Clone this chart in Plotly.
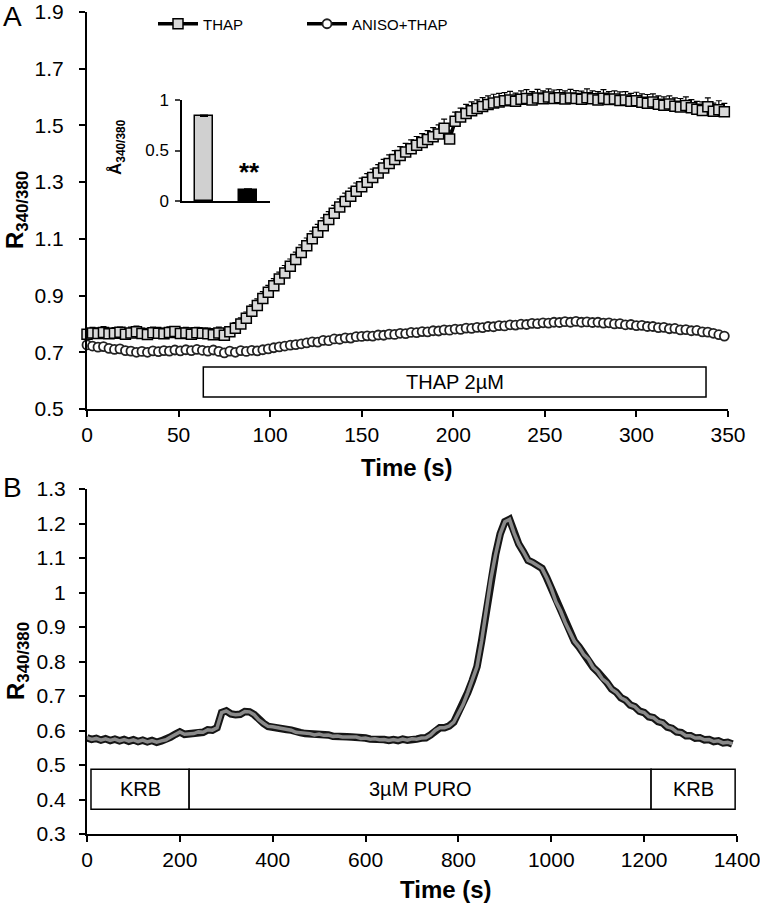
import plotly.graph_objects as go

W, H = 760, 910
def fx(p):
    return p / W
def fy(p):
    return 1 - p / H

FONT = "Liberation Sans, Arial, sans-serif"

# ---------------- Panel A data (sampled every 3 s) ----------------
STEP_A = 3
THAP = [
    0.764, 0.768, 0.766, 0.770, 0.765, 0.767, 0.771, 0.764, 0.768, 0.772,
    0.766, 0.763, 0.769, 0.767, 0.765, 0.770, 0.773, 0.766, 0.768, 0.764,
    0.769, 0.767, 0.765, 0.762, 0.768, 0.760, 0.772,
    0.785, 0.800, 0.820, 0.845, 0.865, 0.890, 0.912, 0.935, 0.958, 0.980,
    1.003, 1.027, 1.052, 1.076, 1.100, 1.123, 1.146, 1.168, 1.190, 1.212,
    1.232, 1.250, 1.268, 1.284, 1.300, 1.316, 1.332, 1.350, 1.366, 1.380,
    1.394, 1.406, 1.418, 1.430, 1.440, 1.450, 1.460, 1.470, 1.490, 1.452,
    1.515, 1.530, 1.542, 1.552, 1.560, 1.567, 1.574, 1.579, 1.583, 1.587,
    1.590, 1.585, 1.592, 1.595, 1.590, 1.597, 1.594, 1.600, 1.595, 1.598,
    1.593, 1.597, 1.595, 1.592, 1.598, 1.594, 1.590, 1.596, 1.591, 1.593,
    1.588, 1.590, 1.585, 1.587, 1.582, 1.578, 1.583, 1.575, 1.571, 1.576,
    1.568, 1.565, 1.570, 1.562, 1.557, 1.553, 1.566, 1.550, 1.555, 1.548,
]
THAP_SEM = [
    0.019, 0.020, 0.018, 0.021, 0.019, 0.020, 0.018, 0.019, 0.021, 0.020,
    0.019, 0.018, 0.020, 0.021, 0.019, 0.020, 0.018, 0.019, 0.020, 0.021,
    0.019, 0.018, 0.020, 0.019, 0.021, 0.020, 0.019,
    0.020, 0.021, 0.022, 0.022, 0.023, 0.024, 0.024, 0.025, 0.025, 0.026,
    0.026, 0.026, 0.027, 0.027, 0.027, 0.028, 0.028, 0.028, 0.028, 0.029,
    0.029, 0.029, 0.029, 0.030, 0.030, 0.030, 0.030, 0.030, 0.030, 0.031,
    0.031, 0.031, 0.031, 0.031, 0.031, 0.032, 0.032, 0.032, 0.032, 0.031,
    0.032, 0.031, 0.032, 0.031, 0.030, 0.031, 0.030, 0.031, 0.030, 0.029,
    0.030, 0.029, 0.030, 0.031, 0.029, 0.030, 0.028, 0.029, 0.030, 0.028,
    0.029, 0.030, 0.028, 0.029, 0.031, 0.028, 0.029, 0.030, 0.028, 0.029,
    0.030, 0.029, 0.028, 0.030, 0.029, 0.031, 0.028, 0.029, 0.030, 0.028,
    0.029, 0.030, 0.031, 0.029, 0.028, 0.030, 0.031, 0.029, 0.032, 0.030,
]
ANISO_THAP = [
    0.726, 0.722, 0.718, 0.720, 0.714, 0.710, 0.712, 0.706, 0.704, 0.700,
    0.703, 0.700, 0.705, 0.702, 0.706, 0.704, 0.708, 0.705, 0.709, 0.706,
    0.710, 0.707, 0.704, 0.708, 0.703, 0.698, 0.704, 0.700, 0.706, 0.703,
    0.707, 0.705, 0.709, 0.712, 0.716, 0.719, 0.722, 0.725, 0.727, 0.730,
    0.733, 0.737, 0.736, 0.742, 0.741, 0.747, 0.746, 0.751, 0.750, 0.755,
    0.756, 0.758, 0.757, 0.761, 0.760, 0.764, 0.763, 0.767, 0.766, 0.770,
    0.769, 0.773, 0.772, 0.776, 0.775, 0.779, 0.778, 0.782, 0.781, 0.785,
    0.784, 0.788, 0.787, 0.791, 0.790, 0.794, 0.793, 0.797, 0.796, 0.799,
    0.798, 0.802, 0.801, 0.804, 0.803, 0.806, 0.805, 0.808, 0.806, 0.809,
    0.806, 0.807, 0.805, 0.806, 0.803, 0.804, 0.800, 0.801, 0.797, 0.798,
    0.794, 0.795, 0.791, 0.791, 0.787, 0.788, 0.783, 0.784, 0.779, 0.780,
    0.776, 0.777, 0.772, 0.771, 0.767, 0.762, 0.757,
]
TIME_A = [i * STEP_A for i in range(len(THAP))]

# inset: amplitude of response
INSET_GROUPS = ["THAP", "ANISO+THAP"]
INSET_VALUES = [0.84, 0.11]
INSET_SEM = [0.01, 0.01]

THAP_PERIOD = (63.5, 338.0, "THAP 2µM")

# ---------------- Panel B data (sampled every 10 s) ----------------
STEP_B = 10
PURO = [
    0.579, 0.574, 0.577, 0.572, 0.576, 0.571, 0.575, 0.570, 0.574, 0.569,
    0.573, 0.568, 0.572, 0.567, 0.571, 0.566, 0.570, 0.573, 0.581, 0.589,
    0.596, 0.589, 0.590, 0.591, 0.596, 0.595, 0.602, 0.601, 0.608, 0.652,
    0.657, 0.648, 0.646, 0.647, 0.655, 0.654, 0.646, 0.631, 0.621, 0.612,
    0.611, 0.608, 0.607, 0.603, 0.601, 0.595, 0.594, 0.591, 0.591, 0.587,
    0.590, 0.586, 0.587, 0.583, 0.584, 0.581, 0.582, 0.581, 0.581, 0.577,
    0.578, 0.575, 0.576, 0.573, 0.574, 0.571, 0.574, 0.571, 0.575, 0.572,
    0.576, 0.575, 0.578, 0.579, 0.587, 0.600, 0.608, 0.608, 0.613, 0.624,
    0.650, 0.675, 0.710, 0.745, 0.785, 0.860, 0.950, 1.040, 1.110, 1.170,
    1.205, 1.212, 1.172, 1.140, 1.118, 1.093, 1.087, 1.078, 1.070, 1.043,
    1.012, 0.973, 0.947, 0.913, 0.887, 0.858, 0.842, 0.820, 0.807, 0.783,
    0.770, 0.750, 0.739, 0.720, 0.711, 0.695, 0.688, 0.674, 0.669, 0.656,
    0.652, 0.640, 0.637, 0.626, 0.622, 0.610, 0.606, 0.596, 0.594, 0.585,
    0.585, 0.578, 0.579, 0.573, 0.574, 0.568, 0.570, 0.564, 0.566, 0.561,
]
TIME_B = [i * STEP_B for i in range(len(PURO))]

PERIODS_B = [(8.6, 220.0, "KRB"), (220.0, 1215.0, "3µM PURO"), (1215.0, 1396.0, "KRB")]

BOX_A_Y = (0.542, 0.648)
BOX_B_Y = (0.372, 0.488)

fig = go.Figure()

fig.add_trace(go.Scatter(
    x=TIME_A, y=THAP, mode="lines+markers", name="THAP",
    line=dict(color="black", width=3.5),
    marker=dict(symbol="square", size=10, color="#d9d9d9", line=dict(color="black", width=1.5)),
    error_y=dict(type="data", array=THAP_SEM, symmetric=False, color="black", thickness=1.2, width=3),
    cliponaxis=False, xaxis="x", yaxis="y"))
fig.add_trace(go.Scatter(
    x=TIME_A, y=ANISO_THAP, mode="lines+markers", name="ANISO+THAP",
    line=dict(color="black", width=3.5),
    marker=dict(symbol="circle", size=9, color="white", line=dict(color="#222222", width=1.8)),
    cliponaxis=False, xaxis="x", yaxis="y"))

fig.add_trace(go.Bar(
    x=INSET_GROUPS, y=INSET_VALUES, width=0.42, showlegend=False,
    marker=dict(color=["#d0d0d0", "black"], line=dict(color="black", width=1.5)),
    error_y=dict(type="data", array=INSET_SEM, symmetric=False, color="black", thickness=1.5, width=4),
    xaxis="x3", yaxis="y3"))

fig.add_trace(go.Scatter(
    x=TIME_B, y=PURO, mode="lines", showlegend=False,
    line=dict(color="#151515", width=7.5), xaxis="x2", yaxis="y2"))
fig.add_trace(go.Scatter(
    x=TIME_B, y=PURO, mode="lines", showlegend=False,
    line=dict(color="#8a8a8a", width=3.5), xaxis="x2", yaxis="y2"))

shapes = []
annotations = []

def add_box(xref, yref, x0, x1, yb, label):
    shapes.append(dict(type="rect", xref=xref, yref=yref, x0=x0, x1=x1, y0=yb[0], y1=yb[1],
                       line=dict(color="black", width=1.5), fillcolor="white", layer="below"))
    annotations.append(dict(xref=xref, yref=yref, x=(x0 + x1) / 2, y=(yb[0] + yb[1]) / 2,
                            text=label, showarrow=False, font=dict(size=20, family=FONT, color="black")))

add_box("x", "y", THAP_PERIOD[0], THAP_PERIOD[1], BOX_A_Y, THAP_PERIOD[2])
for (a, b, lab) in PERIODS_B:
    add_box("x2", "y2", a, b, BOX_B_Y, lab)

def ann(x, y, text, size, bold=False, angle=0, xanchor="center", yanchor="middle"):
    annotations.append(dict(xref="paper", yref="paper", x=fx(x), y=fy(y), text=("<b>%s</b>" % text) if bold else text,
                            showarrow=False, textangle=angle, xanchor=xanchor, yanchor=yanchor,
                            font=dict(size=size, family=FONT, color="black")))

ann(407, 468, "Time (s)", 24, bold=True)
ann(446, 889, "Time (s)", 24, bold=True)
ann(16, 210, "R<sub>340/380</sub>", 24, bold=True, angle=-90)
ann(17, 661, "R<sub>340/380</sub>", 24, bold=True, angle=-90)
ann(1, 16, "A", 28, xanchor="left")
ann(1, 487, "B", 28, xanchor="left")
ann(117, 147, "Å<sub>340/380</sub>", 17, bold=True, angle=-90)
ann(249, 172, "**", 26, bold=True)

axis_common = dict(showline=True, linecolor="black", linewidth=2, ticks="outside", ticklen=6, tickwidth=2,
                   tickcolor="black", showgrid=False, zeroline=False, automargin=False,
                   ticklabeloverflow="allow",
                   tickfont=dict(size=21, family=FONT, color="black"))

fig.update_layout(
    width=W, height=H, margin=dict(l=0, r=0, t=0, b=0, autoexpand=False),
    paper_bgcolor="white", plot_bgcolor="rgba(0,0,0,0)",
    font=dict(family=FONT, color="black"),
    xaxis=dict(domain=[fx(87), fx(728)], range=[0, 350], tick0=0, dtick=50, anchor="y", **axis_common),
    yaxis=dict(domain=[fy(409), fy(12)], range=[0.5, 1.9], tick0=0.5, dtick=0.2, anchor="x",
               ticklabelstandoff=11, **axis_common),
    xaxis2=dict(domain=[fx(87), fx(737)], range=[0, 1400.01], tick0=0, dtick=200, anchor="y2", **axis_common),
    yaxis2=dict(domain=[fy(834), fy(489)], range=[0.3, 1.3], tick0=0.3, dtick=0.1, anchor="x2",
                ticklabelstandoff=9, **axis_common),
    xaxis3=dict(domain=[fx(182), fx(270)], range=[-0.5, 1.5], anchor="y3", showline=True, linecolor="black",
                linewidth=1.5, ticks="", showticklabels=False, showgrid=False, zeroline=False, automargin=False),
    yaxis3=dict(domain=[fy(201), fy(100)], range=[0, 1], tickvals=[0, 0.5, 1], anchor="x3", showline=True,
                linecolor="black", linewidth=1.5, ticks="outside", ticklen=5, tickwidth=1.5, showgrid=False,
                zeroline=False, automargin=False, ticklabelstandoff=3,
                tickfont=dict(size=17, family=FONT, color="black")),
    legend=dict(orientation="h", x=fx(153), y=fy(24), xanchor="left", yanchor="middle",
                font=dict(size=15, family=FONT, color="black"), bgcolor="rgba(0,0,0,0)",
                entrywidth=94, itemwidth=40),
    shapes=shapes, annotations=annotations, bargap=0,
)

fig.write_html("out.html", config={"displayModeBar": False},
               post_script="document.body.style.margin='0px';")
